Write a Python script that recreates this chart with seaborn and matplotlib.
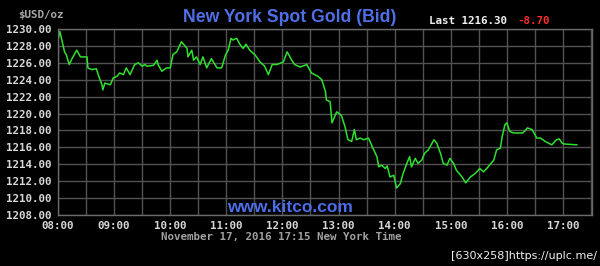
import matplotlib
matplotlib.use("Agg")
import matplotlib.pyplot as plt
import seaborn as sns
import pandas as pd
import numpy as np

# ---- data ----
times = ["08:00","08:02","08:07","08:09","08:12","08:15","08:20","08:24","08:31","08:32",
         "08:36","08:41","08:43","08:47","08:48","08:50","08:56","08:59","09:03","09:06",
         "09:10","09:13","09:17","09:22","09:26","09:30","09:33","09:35","09:42","09:46",
         "09:47","09:51","09:56","10:00","10:03","10:07","10:12","10:18","10:19","10:23",
         "10:25","10:28","10:32","10:35","10:39","10:44","10:50","10:55","10:59","11:02",
         "11:05","11:07","11:11","11:15","11:18","11:21","11:25","11:31","11:36","11:41",
         "11:45","11:49","11:54","12:01","12:05","12:10","12:13","12:19","12:26","12:31",
         "12:38","12:42","12:46","12:47","12:51","12:53","12:58","13:03","13:07","13:10",
         "13:14","13:17","13:19","13:23","13:27","13:32","13:36","13:41","13:43","13:46",
         "13:50","13:52","13:55","13:59","14:02","14:06","14:09","14:13","14:16","14:18",
         "14:22","14:25","14:29","14:32","14:36","14:40","14:42","14:45","14:49","14:52",
         "14:56","14:59","15:03","15:06","15:12","15:16","15:21","15:26","15:31","15:35",
         "15:40","15:46","15:49","15:53","15:55","15:58","16:00","16:03","16:07","16:12",
         "16:17","16:22","16:27","16:32","16:36","16:41","16:48","16:53","16:56","16:59",
         "17:01","17:15"]
prices = [1228.7,1229.7,1227.3,1226.9,1225.8,1226.5,1227.5,1226.7,1226.7,1225.4,
          1225.2,1225.3,1224.6,1223.4,1222.8,1223.6,1223.4,1224.2,1224.4,1224.8,
          1224.6,1225.4,1224.6,1225.8,1226.0,1225.6,1225.8,1225.6,1225.7,1226.3,
          1225.8,1225.0,1225.4,1225.4,1227.0,1227.3,1228.5,1227.7,1226.7,1227.5,
          1226.3,1226.7,1225.8,1226.7,1225.4,1226.5,1225.4,1225.4,1226.9,1227.5,
          1228.9,1228.7,1228.9,1228.1,1227.7,1228.2,1227.5,1226.9,1226.1,1225.6,
          1224.6,1225.8,1225.8,1226.1,1227.3,1226.3,1225.8,1225.5,1225.8,1224.8,
          1224.4,1224.0,1222.6,1221.6,1221.4,1218.9,1220.2,1219.8,1218.4,1216.9,
          1216.7,1218.1,1216.9,1217.1,1216.9,1217.1,1216.1,1214.9,1213.7,1213.9,
          1213.5,1213.8,1212.5,1212.7,1211.2,1211.7,1212.9,1214.1,1214.9,1213.7,
          1214.7,1214.1,1214.5,1215.3,1215.7,1216.5,1216.9,1216.5,1215.3,1214.1,
          1213.9,1214.7,1214.1,1213.3,1212.5,1211.8,1212.5,1212.9,1213.5,1213.1,
          1213.7,1214.5,1215.7,1215.9,1217.3,1218.7,1218.9,1217.9,1217.7,1217.7,
          1217.7,1218.3,1218.1,1217.1,1217.1,1216.7,1216.3,1216.9,1217.0,1216.5,
          1216.4,1216.3]
hour_labels = ["08:00","09:00","10:00","11:00","12:00","13:00","14:00","15:00","16:00","17:00"]
price_ticks = [1208,1210,1212,1214,1216,1218,1220,1222,1224,1226,1228,1230]
title = "New York Spot Gold (Bid)"
last_text = "Last 1216.30"
change_text = "-8.70"
unit_text = "$USD/oz"
date_text = "November 17, 2016 17:15 New York Time"
site_text = "www.kitco.com"
stamp_text = "[630x258]https://uplc.me/"

def to_hours(s):
    h, m = s.split(":")
    return int(h) + int(m) / 60.0

df = pd.DataFrame({"t": [to_hours(s) for s in times], "price": prices})

sns.set_theme(style="dark")
plt.rcParams["font.family"] = ["DejaVu Sans"]

fig = plt.figure(figsize=(6.0, 2.66), dpi=100, facecolor="black")
ax = fig.add_axes([58/600, 1-215/266, (592-58)/600, (215-29)/266])
ax.set_facecolor("black")

sns.lineplot(data=df, x="t", y="price", ax=ax, color="#2fe02f", linewidth=1.1)

ax.set_xlim(8.0, 17.0 + 29/56.1)
ax.set_ylim(1208, 1230)

hour_pos = [to_hours(s) for s in hour_labels]
ax.set_xticks(hour_pos)
ax.set_xticklabels(hour_labels)
ax.set_xticks([h + 0.5 for h in hour_pos], minor=True)
ax.set_yticks(price_ticks)
ax.set_yticklabels([f"{v:.2f}" for v in price_ticks])

mono = {"family": "DejaVu Sans Mono", "weight": "bold", "size": 7.8}
for lab in ax.get_xticklabels() + ax.get_yticklabels():
    lab.set_fontfamily("DejaVu Sans Mono")
    lab.set_fontweight("bold")
    lab.set_fontsize(7.8)
    lab.set_color("#d8d8d8")
ax.tick_params(axis="both", which="both", length=0)
ax.tick_params(axis="y", pad=5)
ax.tick_params(axis="x", pad=4)

ax.grid(True, which="both", color="#525252", linewidth=1.0)
ax.set_axisbelow(True)
for sp in ax.spines.values():
    sp.set_visible(True)
    sp.set_color("#6a6a6a")
    sp.set_linewidth(1.0)

ax.set_xlabel("")
ax.set_ylabel("")

# texts
fig.text(289.5/600, 1-17/266, title, ha="center", va="center", color="#4f6fe6",
         fontsize=12.7, family="Liberation Sans", fontweight="bold")
fig.text(429/600, 1-21/266, last_text, ha="left", va="center", color="#f0f0f0", **mono)
fig.text(517/600, 1-21/266, change_text, ha="left", va="center", color="#ff2a2a", **mono)
fig.text(18/600, 1-15/266, unit_text, ha="left", va="center", color="#a8a8a8",
         family="DejaVu Sans Mono", fontweight="bold", size=7.8)
fig.text(281/600, 1-237/266, date_text, ha="center", va="center", color="#a0a0a0",
         family="DejaVu Sans Mono", fontweight="bold", size=7.8)
ax.text((290-58)/(592-58), (215-208)/(215-29), site_text, transform=ax.transAxes,
        ha="center", va="center", color="#4a6ee8", fontsize=12.5,
        family="Liberation Sans", fontweight="bold")
fig.text(597/600, 1-256/266, stamp_text, ha="right", va="center", color="#f0f0f0",
         family="DejaVu Sans Condensed", size=8)

fig.savefig("out.png", dpi=100, facecolor="black")
